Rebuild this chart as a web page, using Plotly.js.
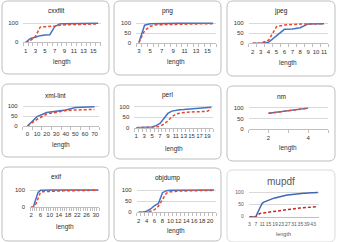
<!DOCTYPE html>
<html><head><meta charset="utf-8">
<script src="https://cdn.plot.ly/plotly-3.0.1.min.js"></script>
<style>html,body{margin:0;padding:0;background:#fff}#c{width:337px;height:242px}</style>
</head><body><div id="c"></div>
<script>
// ---------- data ----------
const cxxfiltLen  = [1,2,3,4,5,6,7,8,9,10,11,12,13,14,15,16];
const cxxfiltBlue = [0,20,27,35,38,40,82,97,98,98,99,99,99,99,100,100];
const cxxfiltRed  = [0,10,30,80,82,83,85,90,92,93,94,94,95,95,96,97];
const cxxfiltTicks = [1,3,5,7,9,11,13,15];

const pngLen  = [3,4,5,6,7,8,9,10,11,12,13,14,15,16];
const pngBlue = [0,90,98,99,99,99,100,100,100,100,100,100,100,100];
const pngRed  = [0,62,85,92,93,94,95,95,96,96,97,97,98,98];
const pngTicks = [3,5,7,9,11,13,15];

const jpegLen  = [2,3,4,5,6,7,8,9,10,11];
const jpegBlue = [0,0,5,37,70,71,78,97,98,98];
const jpegRed  = [0,0,15,83,92,95,96,97,98,98];
const jpegTicks = [2,3,4,5,6,7,8,9,10,11];

const xmlLen  = [0,10,20,30,40,50,60,70];
const xmlBlue = [0,47,67,72,80,92,95,96];
const xmlRed  = [0,33,60,70,77,80,83,83];
const xmlTicks = [0,10,20,30,40,50,60,70];

const perlLen  = [1,2,3,4,5,6,7,8,9,10,11,12,13,14,15,16,17,18,19,20];
const perlBlue = [0,0,0,1,3,10,20,44,68,79,84,86,87,88,90,91,92,93,95,97];
const perlRed  = [0,0,0,0,1,3,7,17,33,52,65,70,72,74,75,76,77,77,78,90];
const perlTicks = [1,3,5,7,9,11,13,15,17,19];

const nmLen  = [2,3,4];
const nmBlue = [74,86,98];
const nmRed  = [74,86,98];
const nmTicks = [2,4];

const exifLen  = [2,3,4,5,6,7,8,9,10,11,12,13,14,15,16,17,18,19,20,21,22,23,24,25,26,27,28,29,30,31];
const exifBlue = [0,0,45,85,98,99,99,100,100,100,100,100,100,100,100,100,100,100,100,100,100,100,100,100,100,100,100,100,100,100];
const exifRed  = [0,0,15,50,85,90,91,92,92,93,93,94,94,94,95,95,95,95,96,96,96,96,97,97,97,97,98,98,98,99];
const exifTicks = [2,6,10,14,18,22,26,30];

const objdumpLen  = [2,3,4,5,6,7,8,9,10,11,12,13,14,15,16,17,18,19,20,21];
const objdumpBlue = [0,0,5,15,30,40,88,97,99,99,100,100,100,100,100,100,100,100,100,100];
const objdumpRed  = [0,0,1,5,12,28,58,86,92,94,95,96,96,97,97,97,98,98,98,98];
const objdumpTicks = [2,4,6,8,10,12,14,16,18,20];

const mupdfLen  = [3,4,5,6,7,8,9,10,11,12,13,14,15,16,17,18,19,20,21,22,23,24,25,26,27,28,29,30,31,32,33,34,35,36,37,38,39,40,41,42,43,44,45,46];
const mupdfBlue = [0,0,0,0,0,15,30,45,55,60,63,66,68,71,73,75,77,79,81,83,84,86,87,88,89,90,91,92,93,93,94,94,95,95,96,96,97,97,97,98,98,98,99,99];
const mupdfRed  = [0,0,0,0,0,8,12,14,15,16,17,18,19,20,21,22,23,24,25,26,27,28,29,30,30,31,32,33,33,34,35,35,36,36,37,37,38,38,39,39,40,40,41,41];
const mupdfTicks = [3,7,11,15,19,23,27,31,35,39,43];

// ---------- layout config (pixel positions) ----------
const W = 337, H = 242;
const panels = [
  {t:'cxxfilt', x:cxxfiltLen, b:cxxfiltBlue, r:cxxfiltRed, tk:cxxfiltTicks, yt:[0,100], step:1,
   box:[2,1,109,74], ty:11, px:[23.3,100.5], y0:42.3, y100:23.3, ly:62},
  {t:'png', x:pngLen, b:pngBlue, r:pngRed, tk:pngTicks, yt:[0,50,100], step:1,
   box:[114,1,221,75], ty:10.7, px:[136,216], y0:42.7, y100:23.3, ly:62},
  {t:'jpeg', x:jpegLen, b:jpegBlue, r:jpegRed, tk:jpegTicks, yt:[0,50,100], step:1,
   box:[227,1,335,76], ty:10.7, px:[248.7,328], y0:43.3, y100:23.3, ly:62.7},
  {t:'xml-lint', x:xmlLen, b:xmlBlue, r:xmlRed, tk:xmlTicks, yt:[0,50,100], step:10,
   box:[2,84,109,157], ty:95, px:[22.7,99.3], y0:126, y100:106, ly:145},
  {t:'perl', x:perlLen, b:perlBlue, r:perlRed, tk:perlTicks, yt:[0,50,100], step:1,
   box:[114,85,221,159], ty:95, px:[134.3,213.3], y0:127.7, y100:106.7, ly:149},
  {t:'nm', x:nmLen, b:nmBlue, r:nmRed, tk:nmTicks, yt:[0,50,100], step:1, lin:[1,5],
   box:[227,86,335,161], ty:96, px:[248.7,328], y0:129.3, y100:107.7, ly:148.3},
  {t:'exif', x:exifLen, b:exifBlue, r:exifRed, tk:exifTicks, yt:[0,100], step:1,
   box:[2,167,109,241], ty:176, px:[30,99.3], y0:206.7, y100:190, ly:226.7},
  {t:'objdump', x:objdumpLen, b:objdumpBlue, r:objdumpRed, tk:objdumpTicks, yt:[0,50,100], step:1,
   box:[114,168,221,241], ty:178.3, px:[136.7,216], y0:212.3, y100:190, ly:230.7},
  {t:'mupdf', x:mupdfLen, b:mupdfBlue, r:mupdfRed, tk:mupdfTicks, yt:[0,50,100], step:1, alt:true,
   box:[227,170,335,242], ty:181.7, px:[248.7,318.7], y0:216.7, y100:192.3, ly:234}
];

const FONT = 'Liberation Sans, Arial, sans-serif';
const fx = p => p / W, fy = p => 1 - p / H;
const data = [], shapes = [], annotations = [];
const layout = {width:W, height:H, margin:{l:0,r:0,t:0,b:0}, showlegend:false,
  paper_bgcolor:'#fff', plot_bgcolor:'rgba(0,0,0,0)', font:{family:FONT, size:6, color:'#333'}};

function rrect(b, r){
  const [x0,y0,x1,y1] = b;
  const P = (x,y) => fx(x).toFixed(5)+','+fy(y).toFixed(5);
  return 'M'+P(x0+r,y0)+' L'+P(x1-r,y0)+' Q'+P(x1,y0)+' '+P(x1,y0+r)+
    ' L'+P(x1,y1-r)+' Q'+P(x1,y1)+' '+P(x1-r,y1)+' L'+P(x0+r,y1)+' Q'+P(x0,y1)+' '+P(x0,y1-r)+
    ' L'+P(x0,y0+r)+' Q'+P(x0,y0)+' '+P(x0+r,y0)+' Z';
}

panels.forEach((p, k) => {
  const i = k + 1, xs = i === 1 ? '' : String(i);
  const blue = p.alt ? '#4068B0' : '#4472C4';
  const red  = p.alt ? '#C0272D' : '#E8492E';
  data.push({x:p.x, y:p.b, xaxis:'x'+xs, yaxis:'y'+xs, mode:'lines', name:'A',
    line:{color:blue, width:1.5}, hoverinfo:'skip'});
  data.push({x:p.x, y:p.r, xaxis:'x'+xs, yaxis:'y'+xs, mode:'lines', name:'B',
    line:{color:red, width:1.5, dash:'3px,2px'}, hoverinfo:'skip'});

  const top = p.y100 - 2;
  const ymax = 100 * (p.y0 - top) / (p.y0 - p.y100);
  const first = p.x[0], last = p.x[p.x.length - 1];
  const xr = p.lin ? p.lin : [first - p.step/2, last + p.step/2];
  const txtCol = p.alt ? '#595959' : '#333';
  const tf = p.alt ? 5 : 6;
  layout['xaxis'+xs] = {domain:[fx(p.px[0]), fx(p.px[1])], anchor:'y'+xs, range:xr,
    showgrid:false, zeroline:false, showline:true, linecolor:'#bfbfbf', linewidth:1,
    tickmode:'array', tickvals:p.tk, ticktext:p.tk.map(String), ticks:'', tickangle:0,
    tickfont:{size:tf, color:txtCol, family:FONT}, ticklabelstandoff:2,
    minor:{tickmode:'linear', tick0: xr[0], dtick: p.step, ticks:'outside',
      ticklen: p.alt ? 0 : 3, tickcolor:'#bfbfbf', tickwidth:1, showgrid:false},
    fixedrange:true};
  layout['yaxis'+xs] = {domain:[fy(p.y0), fy(top)], anchor:'x'+xs, range:[0, ymax],
    showgrid:true, gridcolor:'#d9d9d9', gridwidth:1, zeroline:false, showline:false,
    tickmode:'array', tickvals:p.yt, ticktext:p.yt.map(String), ticks:'', tickangle:0,
    tickfont:{size:tf, color:txtCol, family:FONT}, ticklabelstandoff:4, fixedrange:true};

  shapes.push({type:'path', xref:'paper', yref:'paper', path:rrect(p.box, 6), layer:'below',
    fillcolor:'#fff', line:{color: p.alt ? '#d9d9d9' : '#bdbdbd', width:1}});
  const cx = (p.box[0] + p.box[2]) / 2;
  annotations.push({xref:'paper', yref:'paper', x:fx(cx), y:fy(p.ty), text:p.t, showarrow:false,
    xanchor:'center', yanchor:'middle',
    font:{size: p.alt ? 10 : 6.5, color: p.alt ? '#595959' : '#222', family:FONT}});
  annotations.push({xref:'paper', yref:'paper', x:fx((p.px[0]+p.px[1])/2), y:fy(p.ly), text:'length',
    showarrow:false, xanchor:'center', yanchor:'middle',
    font:{size: p.alt ? 5.5 : 6.5, color: txtCol, family:FONT}});
});
layout.shapes = shapes;
layout.annotations = annotations;
Plotly.newPlot('c', data, layout, {staticPlot:true, displayModeBar:false});
</script></body></html>
